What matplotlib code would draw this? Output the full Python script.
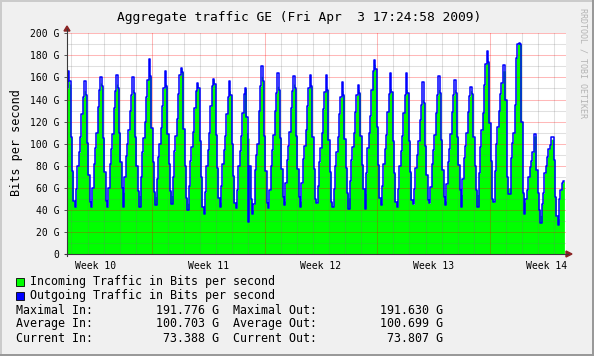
import matplotlib
matplotlib.use("Agg")
import matplotlib.pyplot as plt
import numpy as np
from matplotlib.patches import Rectangle, Polygon
from matplotlib.lines import Line2D
import matplotlib.transforms as mtransforms

W, H, DPI = 594, 356, 100

title = "Aggregate traffic GE (Fri Apr  3 17:24:58 2009)"
ylabel = "Bits per second"
watermark = "RRDTOOL / TOBI OETIKER"
week_labels = ["Week 10", "Week 11", "Week 12", "Week 13", "Week 14"]
week_label_days = [3.5, 10.5, 17.5, 24.5, 31.5]   # days since Mon 2 Mar 2009 00:00
week_start_days = [7, 14, 21, 28]
y_ticks = [0, 20, 40, 60, 80, 100, 120, 140, 160, 180, 200]
y_ticklabels = ["0", "20 G", "40 G", "60 G", "80 G", "100 G", "120 G",
                "140 G", "160 G", "180 G", "200 G"]
view_start, view_end = 1.725, 32.725            # 31 days ending Apr 3 17:24
data_start = 1 + 17 / 24                         # Mar 3 17:00
step_days = 2 / 24                               # 2 hour samples

legend_labels = ["Incoming Traffic in Bits per second",
                 "Outgoing Traffic in Bits per second"]
stat_names = ["Maximal", "Average", "Current"]
stat_in = ["191.776 G", "100.703 G", "73.388 G"]
stat_out = ["191.630 G", "100.699 G", "73.807 G"]

# Gbit/s, 2-hour steps (slots starting 01,03,...,23 h); first row starts 17 h
incoming = [
    [150, 157, 154, 106],
    [75, 48, 43, 59, 80, 92, 106, 127, 142, 148, 144, 101],
    [72, 47, 43, 60, 82, 96, 110, 133, 149, 155, 152, 105],
    [74, 48, 43, 60, 82, 95, 109, 132, 148, 154, 150, 110],
    [83, 60, 56, 70, 89, 100, 112, 130, 144, 149, 146, 106],
    [80, 57, 53, 70, 92, 105, 120, 142, 158, 164, 161, 114],
    [83, 56, 52, 68, 88, 100, 114, 134, 150, 155, 152, 109],
    [82, 57, 53, 70, 93, 107, 122, 145, 162, 168, 165, 113],
    [80, 51, 46, 62, 84, 97, 111, 132, 148, 154, 150, 102],
    [70, 43, 38, 56, 80, 94, 110, 134, 152, 158, 154, 108],
    [78, 51, 47, 62, 82, 94, 107, 127, 142, 148, 144, 100],
    [71, 46, 42, 58, 80, 93, 107, 128, 145, 150, 110, 105],
    [80, 50, 40, 45, 76, 90, 100, 130, 152, 161, 157, 107],
    [75, 46, 42, 58, 80, 94, 108, 130, 146, 152, 149, 105],
    [77, 52, 48, 64, 85, 98, 111, 132, 148, 154, 150, 107],
    [77, 52, 48, 64, 86, 98, 112, 134, 150, 155, 152, 106],
    [77, 50, 46, 62, 83, 96, 110, 131, 147, 152, 149, 103],
    [74, 47, 43, 59, 80, 92, 106, 127, 142, 148, 144, 104],
    [78, 55, 51, 66, 85, 97, 110, 129, 144, 149, 146, 107],
    [81, 59, 55, 73, 96, 110, 125, 149, 166, 172, 168, 115],
    [81, 51, 46, 62, 82, 95, 108, 129, 145, 150, 147, 102],
    [73, 47, 43, 59, 80, 93, 107, 128, 144, 149, 146, 102],
    [74, 49, 45, 59, 78, 90, 102, 121, 135, 140, 137, 98],
    [72, 49, 46, 61, 82, 94, 108, 128, 144, 149, 146, 103],
    [76, 52, 48, 63, 83, 95, 109, 129, 144, 149, 146, 106],
    [81, 58, 54, 68, 87, 98, 110, 129, 143, 148, 145, 106],
    [80, 58, 54, 73, 97, 112, 128, 153, 172, 178, 174, 119],
    [84, 50, 47, 75, 100, 115, 130, 145, 155, 166, 166, 140],
    [70, 60, 60, 87, 101, 110, 135, 178, 190, 191.8, 190, 120],
    [55, 47, 50, 58, 70, 79, 84, 92, 107, 107, 76, 55],
    [40, 35, 45, 55, 73, 80, 88, 95, 99, 104, 104, 85],
    [52, 34, 32, 50, 58, 64, 66],
]

outgoing = [
    [150, 166, 157, 106],
    [75, 48, 43, 59, 80, 92, 106, 127, 142, 157, 144, 101],
    [72, 47, 43, 60, 82, 96, 110, 133, 149, 160, 152, 105],
    [74, 48, 43, 60, 82, 95, 109, 132, 148, 162, 150, 110],
    [83, 60, 43, 70, 89, 100, 112, 130, 144, 160, 146, 106],
    [80, 57, 43, 70, 92, 105, 120, 142, 158, 177, 161, 114],
    [83, 56, 44, 68, 88, 100, 114, 134, 150, 166, 152, 109],
    [82, 57, 45, 70, 93, 107, 122, 145, 162, 169, 165, 113],
    [80, 51, 40, 62, 84, 97, 111, 132, 148, 155, 150, 102],
    [70, 43, 36, 56, 80, 94, 110, 134, 152, 159, 154, 108],
    [78, 51, 43, 62, 82, 94, 107, 127, 142, 157, 144, 100],
    [71, 46, 42, 58, 80, 93, 107, 128, 145, 150, 124, 29],
    [80, 50, 36, 45, 76, 90, 100, 130, 152, 170, 157, 107],
    [75, 46, 42, 58, 80, 94, 108, 130, 146, 164, 149, 105],
    [77, 52, 44, 64, 85, 98, 111, 132, 148, 161, 150, 107],
    [77, 52, 43, 64, 86, 98, 112, 134, 150, 162, 152, 106],
    [77, 50, 46, 62, 83, 96, 110, 131, 147, 162, 149, 103],
    [74, 47, 43, 59, 80, 92, 106, 127, 142, 156, 144, 104],
    [78, 55, 41, 66, 85, 97, 110, 129, 144, 153, 146, 107],
    [81, 59, 41, 73, 96, 110, 125, 149, 166, 176, 168, 115],
    [81, 51, 44, 62, 82, 95, 108, 129, 145, 164, 147, 102],
    [73, 47, 43, 59, 80, 93, 107, 128, 144, 164, 146, 102],
    [74, 49, 45, 59, 78, 90, 102, 121, 135, 156, 137, 98],
    [72, 49, 46, 61, 82, 94, 108, 128, 144, 161, 146, 103],
    [76, 52, 44, 63, 83, 95, 109, 129, 144, 158, 146, 106],
    [81, 58, 43, 68, 87, 98, 110, 129, 143, 151, 145, 106],
    [80, 58, 43, 73, 97, 112, 128, 153, 172, 184, 174, 119],
    [84, 50, 47, 75, 100, 115, 130, 145, 155, 171, 171, 140],
    [70, 54, 54, 87, 101, 110, 135, 178, 190, 191.6, 190, 120],
    [55, 36, 50, 58, 70, 79, 84, 92, 109, 109, 76, 55],
    [40, 28, 45, 55, 73, 80, 88, 95, 99, 106, 106, 85],
    [52, 34, 26, 50, 58, 64, 66],
]

plt.rcParams['font.family'] = ['DejaVu Sans Mono', 'DejaVu Sans']

inc = np.concatenate([np.asarray(r, float) for r in incoming])
out = np.concatenate([np.asarray(r, float) for r in outgoing])
t = data_start + step_days * np.arange(len(inc) + 1)
inc_s = np.append(inc, inc[-1])
out_s = np.append(out, out[-1])

fig = plt.figure(figsize=(W / DPI, H / DPI), dpi=DPI, facecolor='#F0F0F0')

def fx(px):
    return px / W

def fy(py):
    return 1 - py / H

L, R, T, B = 67, 566, 33.3, 254
ax = fig.add_axes([fx(L), fy(B), (R - L) / W, (B - T) / H])
ax.set_facecolor('white')
ax.set_xlim(view_start, view_end)
ax.set_ylim(0, 200)
for s in ax.spines.values():
    s.set_visible(False)

ax.fill_between(t, 0, inc_s, step='post', color='#00FF00', lw=0, zorder=1)

# grid
minor_col = (0.45, 0.45, 0.45, 0.22)
major_col = (1.0, 0.0, 0.0, 0.28)
for d in range(2, 33):
    if d not in week_start_days:
        ax.axvline(d, color=minor_col, lw=0.75, zorder=2)
for v in range(10, 200, 20):
    ax.axhline(v, color=minor_col, lw=0.75, zorder=2)
for d in week_start_days:
    ax.axvline(d, color=major_col, lw=0.75, zorder=3)
for v in y_ticks[1:]:
    ax.axhline(v, color=major_col, lw=0.75, zorder=3)

ax.step(t, out_s, where='post', color='#0000FF', lw=1.1, zorder=4)

ax.set_xticks([])
ax.set_yticks(y_ticks)
ax.set_yticklabels(y_ticklabels, fontsize=7)
ax.tick_params(axis='y', length=2, width=0.7, color='#555555', pad=3.5)

trans = mtransforms.blended_transform_factory(ax.transData, fig.transFigure)
for lab, d in zip(week_labels, week_label_days):
    ax.text(d, fy(266), lab, transform=trans, ha='center', va='center', fontsize=7)

# axes lines with arrows
axis_col = '#3A3A3A'
arrow_col = '#8B2323'
fig.add_artist(Line2D([fx(L), fx(L)], [fy(B + 2), fy(29)], color=axis_col, lw=0.8))
fig.add_artist(Line2D([fx(L - 2), fx(568)], [fy(B), fy(B)], color=axis_col, lw=0.8))
fig.add_artist(Polygon([[fx(L - 3), fy(31)], [fx(L + 3), fy(31)], [fx(L), fy(26)]],
                       closed=True, color=arrow_col, transform=fig.transFigure))
fig.add_artist(Polygon([[fx(566), fy(B - 3)], [fx(566), fy(B + 3)], [fx(572), fy(B)]],
                       closed=True, color=arrow_col, transform=fig.transFigure))

fig.text(fx(299), fy(17), title, ha='center', va='center', fontsize=9.3)
fig.text(fx(17), fy(143), ylabel, ha='center', va='center', rotation=90, fontsize=8.5)
fig.text(fx(583), fy(8), watermark, ha='center', va='top', rotation=270,
         fontsize=6, color='#B4B4B4')

# legend
for i, (lab, col) in enumerate(zip(legend_labels, ['#00FF00', '#0000FF'])):
    yc = 282 + 14 * i
    fig.add_artist(Rectangle((fx(16), fy(yc + 4)), 8 / W, 8 / H, transform=fig.transFigure,
                             facecolor=col, edgecolor='black', lw=0.6))
    fig.text(fx(30), fy(yc), lab, ha='left', va='center', fontsize=8.4)

for i, (n, vi, vo) in enumerate(zip(stat_names, stat_in, stat_out)):
    line = f"{n + ' In:':<20}{vi:>9}  {n + ' Out:':<21}{vo:>9}"
    fig.text(fx(16), fy(310 + 14 * i), line, ha='left', va='center', fontsize=8.4)

# 3D border
fig.add_artist(Rectangle((0, 0), 1, 2 / H, transform=fig.transFigure, color='#999999', lw=0))
fig.add_artist(Rectangle((1 - 2 / W, 0), 2 / W, 1, transform=fig.transFigure, color='#999999', lw=0))
fig.add_artist(Rectangle((0, 1 - 2 / H), 1 - 2 / W, 2 / H, transform=fig.transFigure, color='#CBCBCB', lw=0))
fig.add_artist(Rectangle((0, 2 / H), 2 / W, 1 - 2 / H, transform=fig.transFigure, color='#CBCBCB', lw=0))

fig.savefig('out.png', dpi=DPI, facecolor=fig.get_facecolor())
